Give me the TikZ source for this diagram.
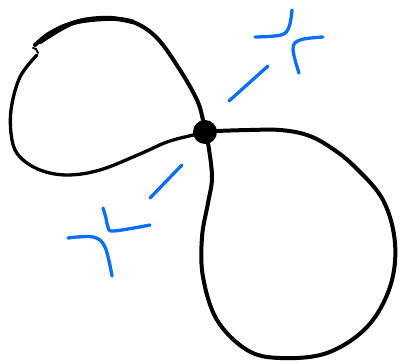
\documentclass[tikz,border=0pt]{standalone}
\usepackage{tikz}
\definecolor{sketchblue}{RGB}{10,110,250}
\begin{document}
\begin{tikzpicture}[x=1pt, y=-1pt,
        curve/.style={line width=4pt, line cap=round, line join=round},
        spark/.style={sketchblue, line width=3.3pt, line cap=round, line join=round},
        crossdot/.style={circle, fill=black, inner sep=0pt, minimum size=24pt}
    ]
    \useasboundingbox (0,0) rectangle (400,363);
    % crossing point
    \node[crossdot] (x) at (205,132) {};
    % left loop
    \draw[curve] plot[smooth, tension=0.6] coordinates {(x.center) (203,120) (197,100) (180,70) (157,38) (133,22) (107,19) (73,23) (50,33) (35,45)};
    \draw[curve, line width=4.5pt] plot[smooth, tension=0.6] coordinates {(40,42) (73,23) (107,18) (133,22)};
    \draw[curve, line width=2pt] (33,48) -- (36,49) -- (38,53);
    \draw[curve, line width=3.3pt] plot[smooth, tension=0.6] coordinates {(37,55) (20,77) (11,110) (12,140) (20,157) (40,170) (67,175) (100,170) (140,154) (167,142) (193,135) (x.center)};
    % right loop
    \draw[curve] plot[smooth, tension=0.6] coordinates {(x.center) (217,131) (250,130) (280,130) (307,135) (330,147) (355,167) (383,200) (395,243) (390,287) (367,327) (327,353) (280,358) (247,350) (217,320) (203,277) (202,237) (208,203) (212,177) (208,143) (x.center)};
    % upper sparkle
    \draw[spark] (229,101) -- (268,66);
    \draw[spark] plot[smooth, tension=0.6] coordinates {(255,37) (281,35) (289,27) (292,10)};
    \draw[spark] plot[smooth, tension=0.6] coordinates {(323,37) (300,40) (293,49) (299,73)};
    % lower sparkle
    \draw[spark] (150,198) -- (182,165);
    \draw[spark] plot[smooth, tension=0.6] coordinates {(103,208) (106,218) (108,227) (114,231) (150,225)};
    \draw[spark] plot[smooth, tension=0.6] coordinates {(68,238) (93,237) (105,247) (112,276)};
\end{tikzpicture}
\end{document}
